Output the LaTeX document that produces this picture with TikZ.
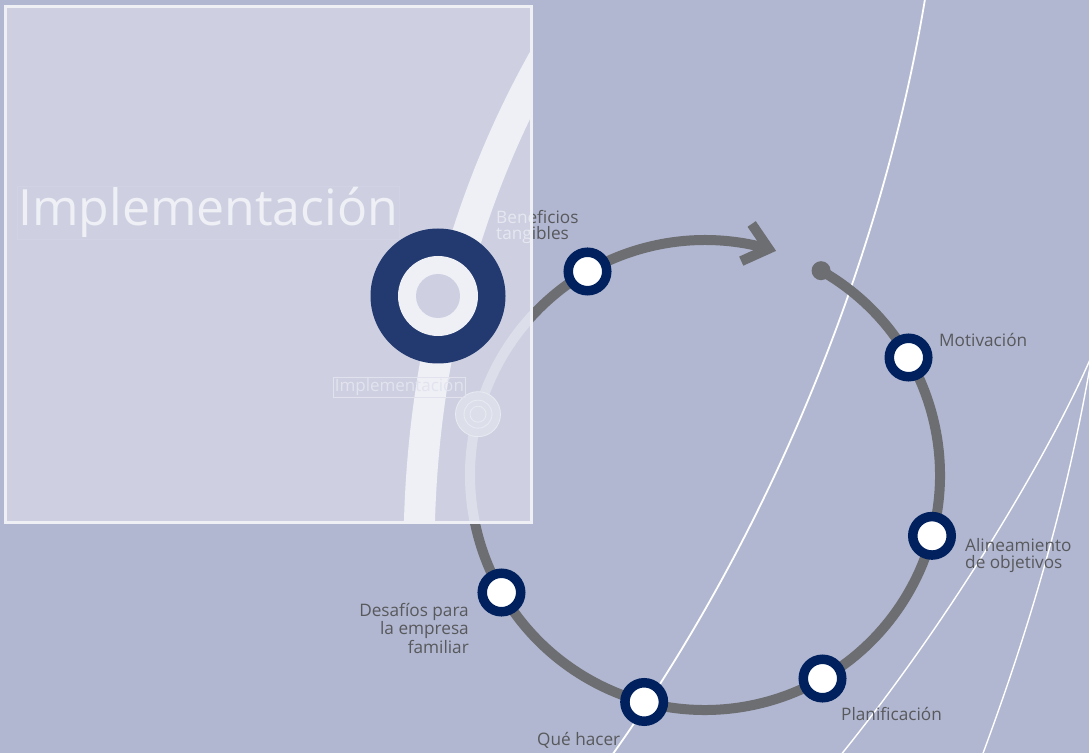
\documentclass[tikz,border=0pt]{standalone}
\usepackage{fontspec}
\setmainfont{Open Sans}
\usetikzlibrary{arrows, arrows.meta}
\usetikzlibrary{calc}
\usetikzlibrary{positioning}

\definecolor{fondo}{HTML}{B1B7D1}
\definecolor{caja}{HTML}{CED0E2}
\definecolor{banda}{HTML}{EEF0F6}
\definecolor{arcoclaro}{HTML}{DCDEEA}
\definecolor{grisanillo}{HTML}{6D6E71}
\definecolor{azulhito}{HTML}{00215E}
\definecolor{azulgrande}{HTML}{233A70}
\definecolor{grisetiq}{HTML}{58595C}
\definecolor{textoclaro}{HTML}{E6E7F0}

\begin{document}
\begin{tikzpicture}[x=1pt, y=1pt,
    hito/.style={circle, draw=azulhito, fill=white, line width=9.5pt, inner sep=0pt, minimum size=38.5pt},
    etiq/.style={text=grisetiq, inner sep=0pt, font=\fontsize{17.2}{16.6}\selectfont},
    anillo/.style={draw=grisanillo, line width=10pt}]
  \useasboundingbox (0,0) rectangle (1089,753);
  \clip (0,0) rectangle (1089,753);
  \fill[fondo] (0,0) rectangle (1089,753);

  % lineas blancas finas
  \draw[white, line width=1.8pt] (926,760) .. controls (886,513) and (780,233) .. (610,-5);
  \draw[white, line width=1.4pt] (1092,398) .. controls (1050,300) and (950,133) .. (840,-3);
  \draw[white, line width=1.4pt] (1092,398) .. controls (1072,280) and (1040,153) .. (982,-3);

  % anillo gris
  \coordinate (c) at (705,278);
  \coordinate (inicio) at ($(c)+(60.4:235)$);
  \coordinate (punta) at ($(c)+(74.3:235)$);
  \draw[anillo] (inicio) arc[start angle=60.4, end angle=-285.7, radius=235];
  \fill[grisanillo] (inicio) circle (9.5);
  \draw[anillo, line join=miter] ($(punta)+(124.3:30)$) -- (punta) -- ($(punta)+(204.3:30)$);

  % hitos
  \node[hito] (benef) at ($(c)+(120:235)$) {};
  \node[hito] (motiv) at ($(c)+(30:235)$) {};
  \node[hito] (alin) at ($(c)+(-15:235)$) {};
  \node[hito] (plan) at ($(c)+(-60:235)$) {};
  \node[hito] (que) at ($(c)+(-105:235)$) {};
  \node[hito] (desaf) at ($(c)+(210:235)$) {};

  \node[etiq, align=left, anchor=base west] (benef-lbl) at (496,513) {Beneficios\\tangibles};
  \node[etiq, anchor=base west] (motiv-lbl) at (939,406) {Motivación};
  \node[etiq, align=left, anchor=base west] (alin-lbl) at (965,185) {Alineamiento\\de objetivos};
  \node[etiq, anchor=base west] (plan-lbl) at (841,33) {Planificación};
  \node[etiq, anchor=base west] (que-lbl) at (537,8) {Qué hacer};
  \node[etiq, align=right, anchor=base east] (desaf-lbl) at (469,100) {Desafíos para\\la empresa\\familiar};

  % caja de implementacion
  \fill[caja] (5,231) rectangle (531,746);
  \begin{scope}
    \clip (5,231) rectangle (531,746);
    \draw[banda, line width=31pt] (419,205) .. controls (420,383) and (462,553) .. (550,705);
    \draw[arcoclaro, line width=10pt] ($(c)+(130:235)$) arc[start angle=130, end angle=200, radius=235];
    \node[circle, fill=arcoclaro, draw=banda!70!arcoclaro, line width=0.8pt, minimum size=45pt, inner sep=0pt] (fantasma) at ($(c)+(165:235)$) {};
    \draw[banda!70!arcoclaro, line width=0.8pt] (fantasma) circle (14) (fantasma) circle (8);
    \node[circle, fill=azulgrande, minimum size=135pt, inner sep=0pt] (impl) at (438,457) {};
    \fill[banda] (impl) circle (40);
    \fill[caja] (impl) circle (22);
    \node[text=banda, draw=caja!93!white, line width=0.5pt, inner sep=1pt, anchor=base west, font=\fontsize{50}{50}\selectfont] (titulo) at (17,527) {Implementación};
    \node[text=textoclaro!85!caja, draw=textoclaro!80!caja, line width=0.6pt, inner sep=1.5pt, anchor=base west, font=\fontsize{17}{17}\selectfont] (fantasma-lbl) at (333,361) {Implementación};
    \node[etiq, text=textoclaro, align=left, anchor=base west] (benef-claro) at (496,513) {Beneficios\\tangibles};
  \end{scope}
  \draw[banda, line width=3pt] (5,231) rectangle (531,746);
\end{tikzpicture}
\end{document}
